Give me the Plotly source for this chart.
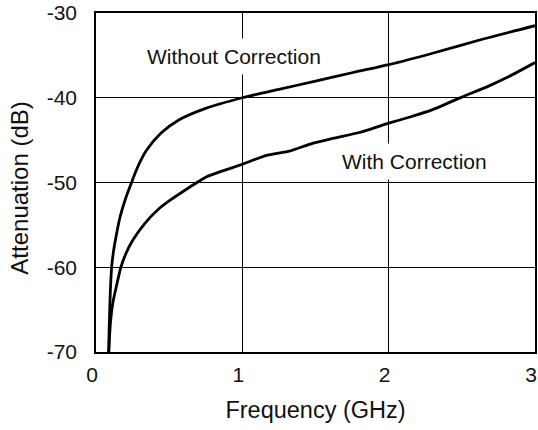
import plotly.graph_objects as go

# Frequency sweep (GHz) and measured attenuation (dB)
freq_without = [0.087, 0.089, 0.091, 0.098, 0.107, 0.118, 0.132, 0.164, 0.20, 0.243,
                0.284, 0.345, 0.443, 0.568, 0.75, 1.0, 1.25, 1.5, 1.75, 2.0, 2.3, 2.64, 3.0]
atten_without = [-70.0, -68.0, -66.7, -62.8, -60.0, -58.3, -56.85, -54.1, -52.0, -50.0,
                 -48.2, -46.2, -44.2, -42.6, -41.25, -40.0, -39.0, -38.05, -37.05, -36.1,
                 -34.75, -33.1, -31.5]

freq_with = [0.087, 0.098, 0.114, 0.17, 0.204, 0.25, 0.33, 0.43, 0.514, 0.60, 0.69, 0.76,
             0.845, 1.0, 1.164, 1.322, 1.459, 1.618, 1.799, 2.0, 2.14, 2.3, 2.504,
             2.686, 2.822, 3.0]
atten_with = [-70.0, -66.7, -64.3, -60.0, -58.4, -56.85, -54.9, -53.1, -52.0, -51.0, -50.0,
              -49.3, -48.75, -47.85, -46.8, -46.3, -45.5, -44.8, -44.1, -43.0, -42.3, -41.4,
              -39.9, -38.6, -37.5, -35.85]

x_ticks = [0, 1, 2, 3]
y_ticks = [-70, -60, -50, -40, -30]

FONT = "Liberation Sans, Arial, Helvetica, sans-serif"
INK = "#111"

fig = go.Figure()
fig.add_trace(go.Scatter(x=freq_without, y=atten_without, mode="lines",
                         line=dict(color="black", width=2.8, shape="spline", smoothing=0.8),
                         name="Without Correction"))
fig.add_trace(go.Scatter(x=freq_with, y=atten_with, mode="lines",
                         line=dict(color="black", width=2.8, shape="spline", smoothing=0.5),
                         name="With Correction"))

# Curve labels sit on white boxes that interrupt the grid
fig.add_annotation(x=0.945, y=-35.17, text="Without Correction", showarrow=False,
                   font=dict(family=FONT, size=21, color=INK),
                   bgcolor="white", borderpad=6)
fig.add_annotation(x=2.175, y=-47.47, text="With Correction", showarrow=False,
                   font=dict(family=FONT, size=21, color=INK),
                   bgcolor="white", borderpad=6)

# Vertical axis title
fig.add_annotation(xref="paper", yref="paper", x=-0.173, y=0.482,
                   text="Attenuation (dB)", textangle=-90, showarrow=False,
                   xanchor="center", yanchor="middle",
                   font=dict(family=FONT, size=24, color=INK))

fig.update_layout(
    width=538, height=430,
    margin=dict(l=96, r=3, t=13, b=78, autoexpand=False),
    paper_bgcolor="white", plot_bgcolor="white",
    showlegend=False,
    font=dict(family=FONT, size=21, color=INK),
)
fig.update_xaxes(
    range=[0, 3], tickvals=x_ticks, ticktext=[str(v) for v in x_ticks],
    showgrid=True, gridcolor="black", gridwidth=1,
    showline=True, linecolor="black", linewidth=1.5, mirror=True,
    ticks="outside", ticklen=3, tickcolor="rgba(0,0,0,0)",
    ticklabelshift=-4, ticklabeloverflow="allow", automargin=False,
    zeroline=False,
    title=dict(text="Frequency (GHz)", font=dict(family=FONT, size=23.5), standoff=17),
)
fig.update_yaxes(
    range=[-70, -30], tickvals=y_ticks, ticktext=[str(v) for v in y_ticks],
    showgrid=True, gridcolor="black", gridwidth=1,
    showline=True, linecolor="black", linewidth=1.5, mirror=True,
    ticks="outside", ticklen=13, tickcolor="rgba(0,0,0,0)",
    automargin=False,
    zeroline=False,
)

fig.write_html("out.html")
